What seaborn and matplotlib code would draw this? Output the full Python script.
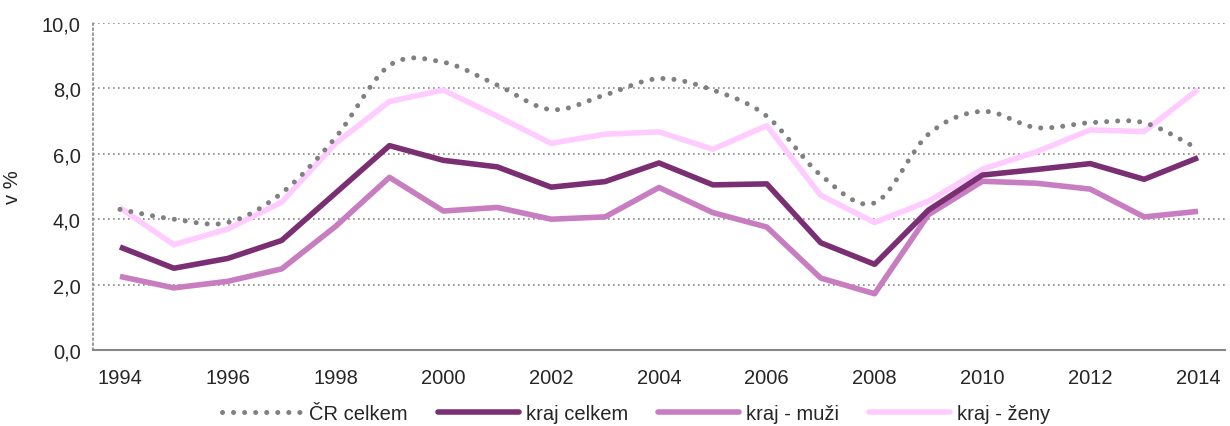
import numpy as np
import pandas as pd
import matplotlib
matplotlib.use('Agg')
import matplotlib.pyplot as plt
from matplotlib.path import Path
from matplotlib.patches import PathPatch
from matplotlib.lines import Line2D
import seaborn as sns

# %% data
years = list(range(1994, 2015))
cr_celkem = [4.3, 4.0, 3.9, 4.8, 6.5, 8.7, 8.8, 8.1, 7.35, 7.8, 8.3, 7.95, 7.15, 5.35, 4.5, 6.6, 7.3, 6.8, 6.95, 6.95, 6.15]
kraj_celkem = [3.15, 2.5, 2.8, 3.35, 4.8, 6.25, 5.8, 5.6, 4.98, 5.15, 5.72, 5.05, 5.08, 3.28, 2.62, 4.28, 5.35, 5.52, 5.7, 5.22, 5.88]
kraj_muzi = [2.25, 1.9, 2.1, 2.48, 3.78, 5.28, 4.25, 4.36, 4.0, 4.07, 4.97, 4.2, 3.76, 2.2, 1.72, 4.14, 5.16, 5.1, 4.92, 4.07, 4.24]
kraj_zeny = [4.35, 3.22, 3.7, 4.52, 6.32, 7.6, 7.95, 7.15, 6.32, 6.6, 6.67, 6.14, 6.86, 4.73, 3.9, 4.55, 5.53, 6.06, 6.73, 6.68, 7.97]
labels = ['ČR celkem', 'kraj celkem', 'kraj - muži', 'kraj - ženy']
colors = ['#808080', '#7b2f73', '#c77dbf', '#ffccff']

# %% long table for seaborn
df = pd.DataFrame({'rok': years, 'kraj celkem': kraj_celkem,
                   'kraj - muži': kraj_muzi, 'kraj - ženy': kraj_zeny})
df['i'] = np.arange(len(years))
long = df.melt(id_vars=['rok', 'i'], var_name='serie', value_name='hodnota')

sns.set_style('white')
plt.rcParams['font.family'] = ['Liberation Sans', 'DejaVu Sans']

fig = plt.figure(figsize=(12.3, 4.27), dpi=100)
ax = fig.add_axes([93/1230, 1-351/427, (1225-93)/1230, (351-24)/427])

# smoothed dotted line for ČR (Excel-like smoothing, drawn in data coords)
x = np.arange(len(years), dtype=float)
y = np.array(cr_celkem)
verts = [(x[0], y[0])]
codes = [Path.MOVETO]
n = len(x)
for k in range(n - 1):
    p0 = (x[max(k-1, 0)], y[max(k-1, 0)])
    p1 = (x[k], y[k])
    p2 = (x[k+1], y[k+1])
    p3 = (x[min(k+2, n-1)], y[min(k+2, n-1)])
    c1 = (p1[0] + (p2[0]-p0[0])/6, p1[1] + (p2[1]-p0[1])/6)
    c2 = (p2[0] - (p3[0]-p1[0])/6, p2[1] - (p3[1]-p1[1])/6)
    verts += [c1, c2, p2]
    codes += [Path.CURVE4]*3
dot_style = (0, (0.01, 2.2))
dots = PathPatch(Path(verts, codes), fill=False, edgecolor=colors[0],
                 lw=3.6, linestyle=dot_style, capstyle='round', zorder=3)
ax.add_patch(dots)

sns.lineplot(data=long, x='i', y='hodnota', hue='serie',
             hue_order=labels[1:], palette=colors[1:], lw=4.0,
             legend=False, ax=ax, zorder=2)
# ženy drawn under the others like in the original
for ln, z in zip(ax.lines, [4, 3, 2]):
    ln.set_zorder(z)
    ln.set_solid_capstyle('butt')

ax.set_xlim(-0.5, len(years) - 0.5)
ax.set_ylim(0, 10)
ax.set_yticks(np.arange(0, 11, 2))
ax.set_yticklabels([f'{v:.1f}'.replace('.', ',') for v in np.arange(0, 11, 2)])
ax.set_xticks(np.arange(0, len(years), 2))
ax.set_xticklabels([str(r) for r in years[::2]])
ax.set_xticks(np.arange(-0.5, len(years)), minor=True)
ax.tick_params(axis='x', which='major', length=0, pad=13, labelsize=14.5)
ax.tick_params(axis='x', which='minor', length=6, width=1.2, color='#888888', direction='out')
ax.tick_params(axis='y', length=5, width=1, color='#888888', labelsize=14.5, pad=4)
ax.set_xlabel('')
ax.set_ylabel('v %', fontsize=14.5, labelpad=14)

ax.grid(axis='y', color='#888888', linestyle=(0, (1, 2)), lw=1.2)
ax.grid(axis='x', visible=False)
for s in ['top', 'right']:
    ax.spines[s].set_visible(False)
ax.spines['left'].set_color('#888888')
ax.spines['left'].set_linestyle((0, (1, 2)))
ax.spines['left'].set_linewidth(1.2)
ax.spines['bottom'].set_color('#888888')
ax.spines['bottom'].set_linewidth(1.5)

handles = [Line2D([], [], color=colors[0], lw=3.6, linestyle=dot_style,
                  dash_capstyle='round')]
handles += [Line2D([], [], color=c, lw=4.0) for c in colors[1:]]
fig.legend(handles, labels, loc='center', bbox_to_anchor=(0.517, 0.03), ncol=4,
           frameon=False, fontsize=14.5, handlelength=4.0, handletextpad=0.35,
           columnspacing=1.5)

fig.savefig('out.png', dpi=100)
